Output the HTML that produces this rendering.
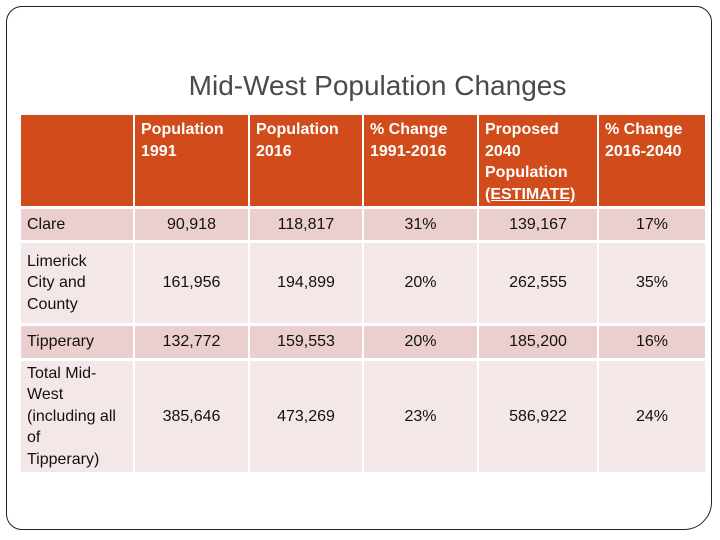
<!DOCTYPE html>
<html><head><meta charset="utf-8"><style>
body{margin:0;width:720px;height:540px;background:#fff;position:relative;overflow:hidden;font-family:"Liberation Sans",Arial,sans-serif}
#frame{position:absolute;left:6px;top:6px;width:706px;height:524px;border:1.5px solid #222;border-radius:16px 16px 28px 16px;box-sizing:border-box}
#title{position:absolute;left:0;width:755px;top:70px;text-align:center;font-size:28px;color:#4a4a4a}
.c{position:absolute;box-sizing:border-box;font-size:16px;color:#111;display:flex;align-items:center;line-height:21.5px}
.h{background:#D14B1B;color:#fff;font-weight:bold;align-items:flex-start;padding:4px 6px}
.n{justify-content:center;text-align:center}
.l{padding-left:6px}
</style></head><body>
<div id="frame"></div>
<div id="title">Mid-West Population Changes</div>
<div id="tbl"></div>
<script>
const colX=[21,135,250,364,479,599];
const colW=[112,113,112,113,118,106];
const rowY=[115,209,243,326,361];
const rowH=[91,31,80,32,111];
const headers=["","Population<br>1991","Population<br>2016","% Change<br>1991-2016","Proposed<br>2040<br>Population<br><u>(ESTIMATE)</u>","% Change<br>2016-2040"];
const regions=["Clare","Limerick<br>City and<br>County","Tipperary","Total Mid-<br>West<br>(including all<br>of<br>Tipperary)"];
const pop1991=["90,918","161,956","132,772","385,646"];
const pop2016=["118,817","194,899","159,553","473,269"];
const chg1=["31%","20%","20%","23%"];
const pop2040=["139,167","262,555","185,200","586,922"];
const chg2=["17%","35%","16%","24%"];
const tbl=document.getElementById('tbl');
function cell(r,c,html,cls,bg){
  const d=document.createElement('div');
  d.className='c '+cls;
  d.style.left=colX[c]+'px';d.style.top=rowY[r]+'px';
  d.style.width=colW[c]+'px';d.style.height=rowH[r]+'px';
  if(bg)d.style.background=bg;
  d.innerHTML='<div>'+html+'</div>';
  
  
  tbl.appendChild(d);
}
headers.forEach((h,c)=>cell(0,c,h,'h'));
const cols=[pop1991,pop2016,chg1,pop2040,chg2];
regions.forEach((rg,i)=>{
  const bg=i%2===0?'#EBCFCE':'#F4E7E7';
  cell(i+1,0,rg,'l',bg);
  cols.forEach((arr,j)=>cell(i+1,j+1,arr[i],'n',bg));
});
</script>
</body></html>
